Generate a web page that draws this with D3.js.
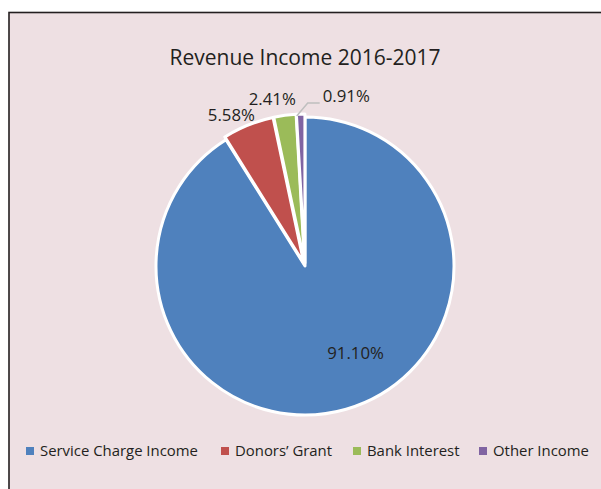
<!DOCTYPE html>
<html><head><meta charset="utf-8">
<script src="https://cdn.jsdelivr.net/npm/d3@7"></script>
<style>
html,body{margin:0;padding:0;background:#fff;}
svg{display:block;}
text{font-family:"Open Sans","Noto Sans",sans-serif;fill:#231f20;}
</style></head>
<body>
<svg id="chart" width="601" height="489"></svg>
<script>
const categories = ["Service Charge Income", "Donors’ Grant", "Bank Interest", "Other Income"];
const values = [91.10, 5.58, 2.41, 0.91];
const labels = ["91.10%", "5.58%", "2.41%", "0.91%"];
const colors = ["#4F81BD", "#C0504D", "#9BBB59", "#8064A2"];
const title = "Revenue Income 2016-2017";

const svg = d3.select("#chart");

svg.append("rect").attr("x", 9).attr("y", 12.5).attr("width", 620).attr("height", 500)
  .attr("fill", "#EEE0E3").attr("stroke", "#231f20").attr("stroke-width", 1.6);

svg.append("text").attr("x", 305).attr("y", 58).attr("dy", "0.35em").attr("text-anchor", "middle")
  .attr("font-size", 21).text(title);

const cx = 305, cy = 266, r = 149;
const g = svg.append("g").attr("transform", `translate(${cx},${cy})`);
const pie = d3.pie().sort(null).value(d => d)(values);
const arc = d3.arc().innerRadius(0).outerRadius(r);

const explode = [0, 3, 3, 3];
g.selectAll("path.slice").data(pie).join("path")
  .attr("class", "slice")
  .attr("d", arc)
  .attr("fill", (d, i) => colors[i])
  .attr("stroke", "#fff").attr("stroke-width", 3).attr("stroke-linejoin", "round")
  .attr("transform", (d, i) => {
    const a = (d.startAngle + d.endAngle) / 2;
    return `translate(${explode[i] * Math.sin(a)},${-explode[i] * Math.cos(a)})`;
  });

// label placement: [angle shift (deg), radius]
const labelPos = [[-14, 101], [-4, 168], [-3.5, 170]];
function lp(d, i) {
  const a = (d.startAngle + d.endAngle) / 2 + labelPos[i][0] * Math.PI / 180;
  const rr = labelPos[i][1];
  return [rr * Math.sin(a), -rr * Math.cos(a)];
}
// leader for the smallest slice
const p3 = pie[3];
const am = (p3.startAngle + p3.endAngle) / 2;
const start = [(r + 1) * Math.sin(am) - 4, -(r + 1) * Math.cos(am)];
const elbow = [start[0] + 11, start[1] - 13];
const endp = [elbow[0] + 12, elbow[1]];
g.append("path")
  .attr("d", `M${start[0]},${start[1]} L${elbow[0]},${elbow[1]} L${endp[0]},${endp[1]}`)
  .attr("fill", "none").attr("stroke", "#BFBFBF").attr("stroke-width", 1.5);

g.selectAll("text.lbl").data(pie).join("text")
  .attr("class", "lbl")
  .attr("text-anchor", (d, i) => i === 3 ? "start" : "middle")
  .attr("font-size", 16.8)
  .attr("dy", "0.35em")
  .attr("x", (d, i) => i === 3 ? endp[0] + 3 : lp(d, i)[0])
  .attr("y", (d, i) => i === 3 ? endp[1] - 7 : lp(d, i)[1])
  .text((d, i) => labels[i]);

// legend
const legX = [26, 221, 353, 479];
const lg = svg.append("g").attr("transform", "translate(0,451)");
categories.forEach((c, i) => {
  lg.append("rect").attr("x", legX[i]).attr("y", -4).attr("width", 8).attr("height", 8).attr("fill", colors[i]);
  lg.append("text").attr("x", legX[i] + 14).attr("y", 0).attr("dy", "0.35em")
    .attr("font-size", 14.9).text(c);
});
</script>
</body></html>
